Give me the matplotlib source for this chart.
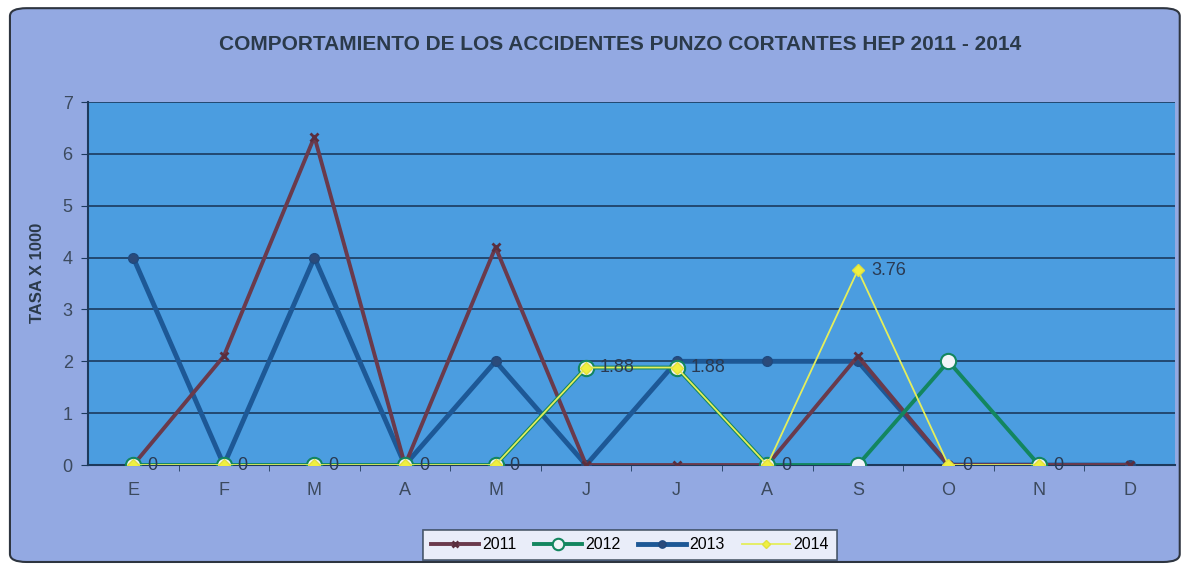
import matplotlib.pyplot as plt
from matplotlib.patches import FancyBboxPatch
import numpy as np

months = ["E", "F", "M", "A", "M", "J", "J", "A", "S", "O", "N", "D"]
y2011 = [0, 2.1, 6.33, 0, 4.2, 0, 0, 0, 2.1, 0, 0, 0]
y2012 = [0, 0, 0, 0, 0, 1.88, 1.88, 0, 0, 2.0, 0, np.nan]
y2013 = [4.0, 0, 4.0, 0, 2.0, 0, 2.0, 2.0, 2.0, 0, 0, 0]
y2014 = [0, 0, 0, 0, 0, 1.88, 1.88, 0, 3.76, 0, 0, np.nan]

plt.rcParams['font.family'] = ['Liberation Sans', 'DejaVu Sans']

fig = plt.figure(figsize=(11.84, 5.68), dpi=100)
fig.patch.set_facecolor("white")

# rounded outer frame
frame = FancyBboxPatch((0.0084, 0.0106), 0.988, 0.975, boxstyle="round,pad=0,rounding_size=0.014",
                       transform=fig.transFigure, facecolor="#93a9e2", edgecolor="#2e3540",
                       linewidth=1.5, zorder=-10)
fig.patches.append(frame)

ax = fig.add_axes([0.0743, 0.1813, 0.918, 0.639])
ax.set_facecolor("#4b9de0")
x = np.arange(len(months))

ax.plot(x, y2013, color="#1d5896", lw=3.5, marker="o", ms=7, mfc="#2b4a7a", mec="#1f4a80", zorder=3, label="2013")
ax.plot(x, y2011, color="#6a3a4c", lw=2.8, marker="x", ms=6, mew=2, mec="#5a2e3e", zorder=4, label="2011")
ax.plot(x, y2012, color="#13865f", lw=2.8, marker="o", ms=11, mfc="#f2f4f8", mec="#13865f", mew=1.5, zorder=5, label="2012")
ax.plot(x, y2014, color="#e4ee5c", lw=1.3, marker="D", ms=6, mfc="#f0f040", mec="#e0e040", zorder=6, label="2014")

# data labels for 2014
for xi, v in zip(x, y2014):
    if np.isnan(v):
        continue
    txt = "0" if v == 0 else "%.2f" % v
    ax.annotate(txt, (xi, v), xytext=(10, 0), textcoords="offset points", va="center", ha="left",
                fontsize=13, color="#2a3a52", zorder=7)

ax.set_xlim(-0.5, 11.5)
ax.set_ylim(0, 7)
ax.set_yticks(range(0, 8))
ax.set_xticks(x)
ax.set_xticklabels(months)
ax.set_xticks(np.arange(0.5, 11, 1), minor=True)
ax.tick_params(axis="x", which="major", length=0, pad=12, labelsize=13, labelcolor="#3c4a5e")
ax.tick_params(axis="x", which="minor", length=4, color="#1d3a5c", direction="out")
ax.tick_params(axis="y", length=5, color="#1d3a5c", labelsize=13, labelcolor="#3c4a5e", pad=6)
ax.grid(axis="y", color="#1b3a5e", lw=1.2)
ax.set_axisbelow(True)
for side in ["top", "right"]:
    ax.spines[side].set_visible(False)
ax.spines["left"].set_color("#1d3a5c")
ax.spines["bottom"].set_color("#1d3a5c")
ax.spines["left"].set_linewidth(1.5)
ax.spines["bottom"].set_linewidth(1.5)

fig.text(0.524, 0.921, "COMPORTAMIENTO DE LOS ACCIDENTES PUNZO CORTANTES HEP 2011 - 2014",
         ha="center", va="center", fontsize=15, fontweight="bold", color="#2b3a4a")
fig.text(0.032, 0.52, "TASA X 1000", rotation=90, ha="center", va="center",
         fontsize=12, fontweight="bold", color="#2b3a4a")

handles, labels = ax.get_legend_handles_labels()
order = [labels.index(l) for l in ["2011", "2012", "2013", "2014"]]
leg = fig.legend([handles[i] for i in order], [labels[i] for i in order], loc="center",
                 bbox_to_anchor=(0.532, 0.0405), ncol=4, frameon=True, fancybox=False,
                 fontsize=11.5, handlelength=3.0, columnspacing=1.1, borderpad=0.5,
                 handletextpad=0.2, markerscale=0.75)
leg.get_frame().set_edgecolor("#2a3a4a")
leg.get_frame().set_facecolor("white")
leg.get_frame().set_linewidth(1.2)

fig.savefig("out.png", dpi=100, facecolor="white")
